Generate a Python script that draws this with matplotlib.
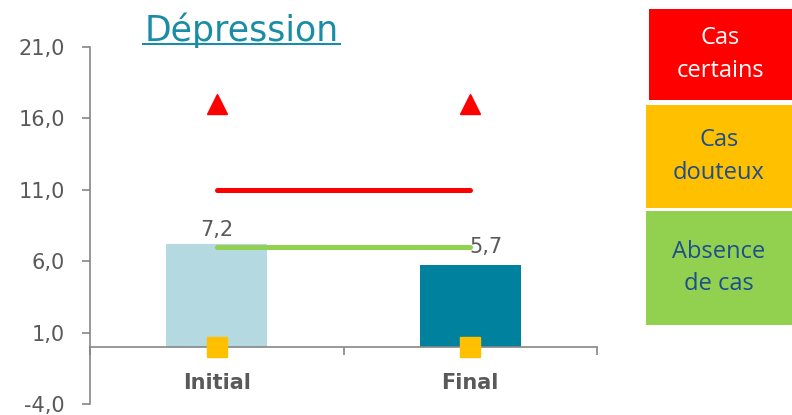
import matplotlib
matplotlib.use("Agg")
import matplotlib.pyplot as plt
from matplotlib.patches import Rectangle

# data
categories = ["Initial", "Final"]
scores = [7.2, 5.7]
seuil_certain = [11, 11]
seuil_douteux = [7, 7]
triangles = [17, 17]
carres = [0, 0]
yticks = [-4, 1, 6, 11, 16, 21]
legend_labels = ["Cas\ncertains", "Cas\ndouteux", "Absence\nde cas"]

bar_colors = ["#B4D9E1", "#00819E"]
label_offsets = [(0, 3), (11, 6)]  # Excel nudged the second label
grey = "#595959"

fig = plt.figure(figsize=(7.92, 4.15), dpi=100)
ax = fig.add_axes([90 / 792, 1 - 404 / 415, (597 - 90) / 792, (404 - 47) / 415])

x = list(range(len(categories)))
ax.bar(x, scores, width=0.4, color=bar_colors, zorder=2)
ax.plot(x, seuil_certain, color="#FF0000", lw=3.6, solid_capstyle="round", zorder=3)
ax.plot(x, seuil_douteux, color="#92D050", lw=3.6, solid_capstyle="round", zorder=3)
ax.plot(x, triangles, ls="none", marker="^", ms=14, color="#FF0000", zorder=4)
ax.plot(x, carres, ls="none", marker="s", ms=14, color="#FFC000", zorder=4,
        clip_on=False)

for xi, v, off in zip(x, scores, label_offsets):
    ax.annotate(f"{v:.1f}".replace(".", ","), (xi, v), xytext=off,
                textcoords="offset points", ha="center", va="bottom",
                fontsize=15, color=grey, zorder=5)

ax.set_xlim(-0.5, 1.5)
ax.set_ylim(-4, 21)
ax.set_yticks(yticks)
ax.set_yticklabels([f"{t:.1f}".replace(".", ",") for t in yticks],
                   fontsize=15, color=grey)
ax.tick_params(axis="y", length=6, color="#868686", width=1.2, pad=12)

ax.spines["bottom"].set_position(("data", 0))
ax.set_xticks([-0.5, 0.5, 1.5])
ax.set_xticklabels([])
ax.set_xticks(x, minor=True)
ax.set_xticklabels(categories, minor=True, fontsize=15, fontweight="bold",
                   color=grey)
ax.tick_params(axis="x", which="major", length=6, color="#868686", width=1.2)
ax.tick_params(axis="x", which="minor", length=0, pad=19)

for s in ["top", "right"]:
    ax.spines[s].set_visible(False)
for s in ["left", "bottom"]:
    ax.spines[s].set_color("#868686")
    ax.spines[s].set_linewidth(1.2)

fig.text(242 / 792, 1 - 30 / 415, "Dépression", ha="center", va="center",
         fontsize=25, color="#1A8CA6")
fig.add_artist(plt.Line2D([143 / 792, 340 / 792], [1 - 44 / 415, 1 - 44 / 415],
                          color="#1A8CA6", lw=1.5))

# colour key on the right
boxes = [(649, 9, 100), (646, 105, 208), (646, 211, 325)]
box_colors = ["#FF0000", "#FFC000", "#92D050"]
text_colors = ["white", "#1F4E8C", "#1F4E8C"]
for (x0, y0, y1), bc, tc, lab in zip(boxes, box_colors, text_colors, legend_labels):
    fig.add_artist(Rectangle((x0 / 792, 1 - y1 / 415), (792 - x0) / 792,
                             (y1 - y0) / 415, facecolor=bc, edgecolor="none",
                             transform=fig.transFigure))
    fig.text((x0 + 792) / 2 / 792, 1 - (y0 + y1) / 2 / 415, lab, ha="center",
             va="center", fontsize=17, color=tc, linespacing=1.45,
             family="Open Sans")

fig.savefig("out.png", dpi=100)
